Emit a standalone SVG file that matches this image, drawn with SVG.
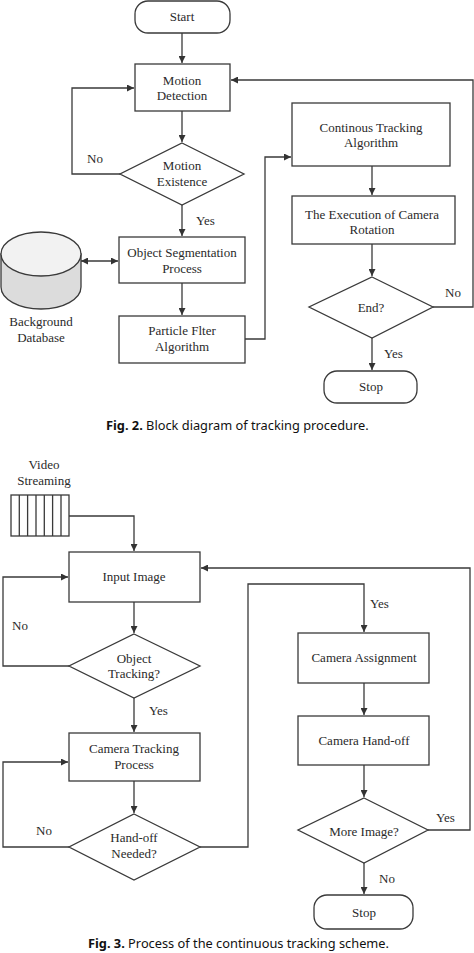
<svg xmlns="http://www.w3.org/2000/svg" width="474" height="953" viewBox="0 0 474 953">
<defs>
<marker id="ah" viewBox="0 0 10 10" refX="10" refY="5" markerWidth="7" markerHeight="7" markerUnits="userSpaceOnUse" orient="auto-start-reverse">
<path d="M0,0 L10,5 L0,10 z" fill="#333"/>
</marker>
<style>
.n{fill:#fff;stroke:#3a3a3a;stroke-width:1.3}
.c{fill:none;stroke:#3a3a3a;stroke-width:1.3}
.t{font-family:"Liberation Serif","Times New Roman",serif;font-size:13px;fill:#2a2a2a;text-anchor:middle}
.l{font-family:"Liberation Serif","Times New Roman",serif;font-size:13px;fill:#2a2a2a}
.cap{font-family:"Noto Sans","Open Sans",sans-serif;font-size:12.8px;fill:#111}
</style>
</defs>
<rect width="474" height="953" fill="#fff"/>

<g id="connectors">
<path class="c" d="M182,33 V63" marker-end="url(#ah)"/>
<path class="c" d="M182,111 V142" marker-end="url(#ah)"/>
<path class="c" d="M120,174 H72 V88 H134" marker-end="url(#ah)"/>
<path class="c" d="M182,205 V236" marker-end="url(#ah)"/>
<path class="c" d="M81,261 H118" marker-start="url(#ah)" marker-end="url(#ah)"/>
<path class="c" d="M182,283 V315" marker-end="url(#ah)"/>
<path class="c" d="M245,339 H265 V157 H291" marker-end="url(#ah)"/>
<path class="c" d="M372,166 V195" marker-end="url(#ah)"/>
<path class="c" d="M372,244 V276" marker-end="url(#ah)"/>
<path class="c" d="M433,307 H473 V80 H231" marker-end="url(#ah)"/>
<path class="c" d="M372,338 V370" marker-end="url(#ah)"/>

<path class="c" d="M69,516 H134 V551" marker-end="url(#ah)"/>
<path class="c" d="M134,602 V633" marker-end="url(#ah)"/>
<path class="c" d="M69,666 H3 V577 H68" marker-end="url(#ah)"/>
<path class="c" d="M134,698 V732" marker-end="url(#ah)"/>
<path class="c" d="M134,781 V813" marker-end="url(#ah)"/>
<path class="c" d="M69,847 H3 V762 H68" marker-end="url(#ah)"/>
<path class="c" d="M200,847 H248 V584 H364 V632" marker-end="url(#ah)"/>
<path class="c" d="M364,683 V715" marker-end="url(#ah)"/>
<path class="c" d="M364,765 V797" marker-end="url(#ah)"/>
<path class="c" d="M428,830 H470 V568 H201" marker-end="url(#ah)"/>
<path class="c" d="M364,863 V894" marker-end="url(#ah)"/>
</g>

<g id="labels">
<text class="l" x="87" y="163">No</text>
<text class="l" x="196" y="225">Yes</text>
<text class="l" x="445" y="297">No</text>
<text class="l" x="384" y="358">Yes</text>
<text class="l" x="12" y="630">No</text>
<text class="l" x="149" y="715">Yes</text>
<text class="l" x="36" y="835">No</text>
<text class="l" x="370" y="608">Yes</text>
<text class="l" x="436" y="822">Yes</text>
<text class="l" x="379" y="883">No</text>
</g>

<g id="start">
<rect class="n" x="135" y="1" width="95" height="32" rx="13"/>
<text class="t" x="182" y="21">Start</text>
</g>
<g id="motion-detection">
<rect class="n" x="135" y="64" width="95" height="47"/>
<text class="t" x="182" y="85">Motion</text>
<text class="t" x="182" y="100">Detection</text>
</g>
<g id="motion-existence">
<polygon class="n" points="182,143 244,174 182,205 120,174"/>
<text class="t" x="182" y="170">Motion</text>
<text class="t" x="182" y="186">Existence</text>
</g>
<g id="background-database">
<path d="M1,254 V287 A40,22 0 0 0 81,287 V254 Z" fill="#dcdcdc" stroke="#3a3a3a" stroke-width="1.3"/>
<ellipse cx="41" cy="254" rx="40" ry="22" fill="#f2f2f2" stroke="#3a3a3a" stroke-width="1.3"/>
<text class="t" x="41" y="326">Background</text>
<text class="t" x="41" y="342">Database</text>
</g>
<g id="object-segmentation">
<rect class="n" x="119" y="237" width="126" height="46"/>
<text class="t" x="182" y="257">Object Segmentation</text>
<text class="t" x="182" y="273">Process</text>
</g>
<g id="particle-filter">
<rect class="n" x="119" y="316" width="126" height="47"/>
<text class="t" x="182" y="335">Particle Flter</text>
<text class="t" x="182" y="351">Algorithm</text>
</g>
<g id="continous-tracking">
<rect class="n" x="292" y="103" width="158" height="63"/>
<text class="t" x="371" y="132">Continous Tracking</text>
<text class="t" x="371" y="147">Algorithm</text>
</g>
<g id="camera-rotation">
<rect class="n" x="292" y="196" width="163" height="48"/>
<text class="t" x="372" y="219">The Execution of Camera</text>
<text class="t" x="372" y="234">Rotation</text>
</g>
<g id="end">
<polygon class="n" points="372,277 433,307 372,338 309,307"/>
<text class="t" x="371" y="312">End?</text>
</g>
<g id="stop1">
<rect class="n" x="324" y="371" width="93" height="32" rx="13"/>
<text class="t" x="371" y="391">Stop</text>
</g>

<g id="caption-fig2">
<text class="cap" x="106" y="430"><tspan font-weight="bold">Fig. 2.</tspan> Block diagram of tracking procedure.</text>
</g>

<g id="video-streaming">
<text class="t" x="44" y="469">Video</text>
<text class="t" x="44" y="485">Streaming</text>
<rect class="n" x="11" y="495" width="58" height="41"/>
<path class="c" d="M19.3,495 V536 M27.6,495 V536 M36,495 V536 M44.3,495 V536 M52.6,495 V536 M61,495 V536"/>
</g>
<g id="input-image">
<rect class="n" x="69" y="552" width="131" height="50"/>
<text class="t" x="134" y="581">Input Image</text>
</g>
<g id="object-tracking">
<polygon class="n" points="134,634 200,666 134,698 69,666"/>
<text class="t" x="134" y="663">Object</text>
<text class="t" x="134" y="678">Tracking?</text>
</g>
<g id="camera-tracking">
<rect class="n" x="69" y="733" width="131" height="48"/>
<text class="t" x="134" y="753">Camera Tracking</text>
<text class="t" x="134" y="769">Process</text>
</g>
<g id="handoff-needed">
<polygon class="n" points="134,814 200,847 134,880 69,847"/>
<text class="t" x="134" y="842">Hand-off</text>
<text class="t" x="134" y="858">Needed?</text>
</g>
<g id="camera-assignment">
<rect class="n" x="298" y="633" width="131" height="50"/>
<text class="t" x="364" y="662">Camera Assignment</text>
</g>
<g id="camera-handoff">
<rect class="n" x="298" y="716" width="131" height="49"/>
<text class="t" x="364" y="745">Camera Hand-off</text>
</g>
<g id="more-image">
<polygon class="n" points="364,798 428,830 364,863 298,830"/>
<text class="t" x="364" y="836">More Image?</text>
</g>
<g id="stop2">
<rect class="n" x="314" y="895" width="99" height="34" rx="13"/>
<text class="t" x="364" y="917">Stop</text>
</g>

<g id="caption-fig3">
<text class="cap" x="88" y="948" font-size="12px"><tspan font-weight="bold">Fig. 3.</tspan> Process of the continuous tracking scheme.</text>
</g>
</svg>
